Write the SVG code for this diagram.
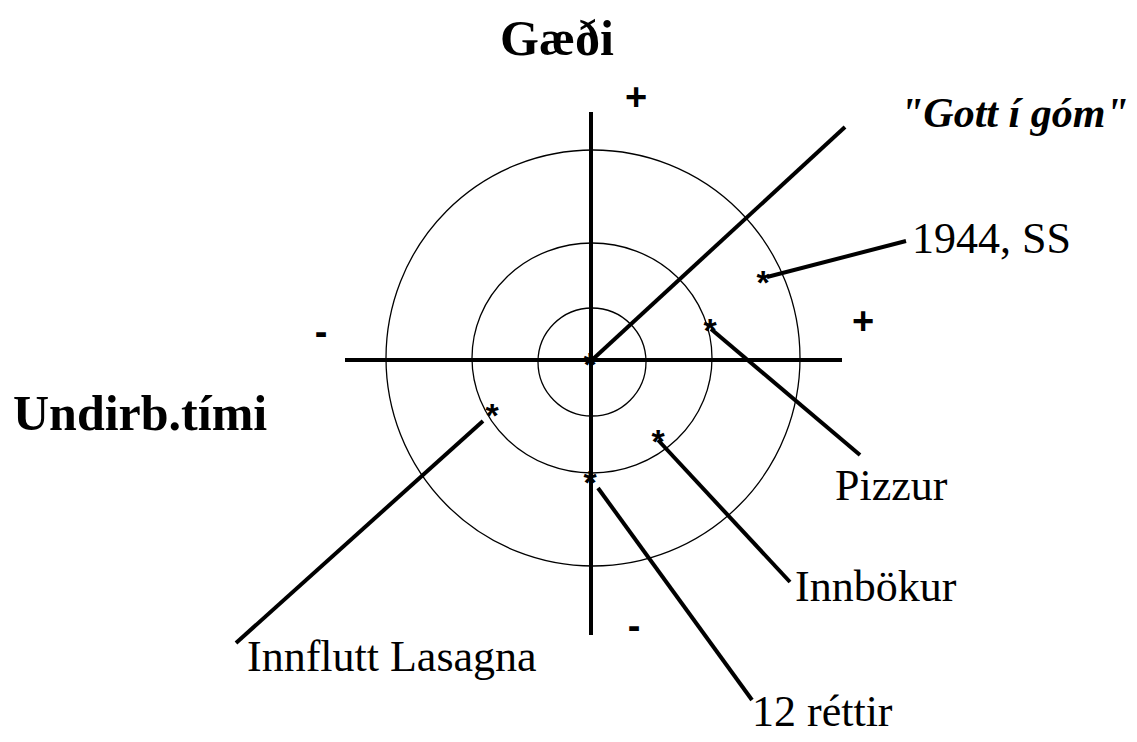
<svg xmlns="http://www.w3.org/2000/svg" width="1137" height="742" viewBox="0 0 1137 742">
<style>
.ring{fill:none;stroke:#000;stroke-width:1.3}
.axis{stroke:#000;stroke-width:4;stroke-linecap:butt}
.lead{stroke:#000;stroke-width:4;stroke-linecap:butt}
.lbl{font-family:"Liberation Serif","Times New Roman",serif;font-size:44px;fill:#000}
.title{font-family:"Liberation Serif","Times New Roman",serif;font-size:50px;font-weight:bold;fill:#000}
.sign{font-family:"Liberation Sans",Arial,sans-serif;font-size:38px;font-weight:bold;fill:#000;text-anchor:middle}
.star{font-family:"Liberation Sans",Arial,sans-serif;font-size:34px;font-weight:bold;fill:#000;text-anchor:middle}
</style>
<g id="rings">
<ellipse class="ring" cx="592" cy="362" rx="54" ry="54"/>
<ellipse class="ring" cx="592" cy="358" rx="120" ry="115"/>
<ellipse class="ring" cx="593" cy="358" rx="207" ry="208"/>
</g>
<g id="axes">
<line class="axis" x1="591" y1="112" x2="591" y2="635"/>
<line class="axis" x1="345" y1="360" x2="842" y2="360"/>
<line class="axis" x1="592" y1="360" x2="845" y2="127"/>
</g>
<g id="connectors">
<line class="lead" x1="767" y1="277" x2="906" y2="241"/>
<line class="lead" x1="711" y1="329" x2="860" y2="455"/>
<line class="lead" x1="658" y1="440" x2="790" y2="582"/>
<line class="lead" x1="598" y1="488" x2="752" y2="700"/>
<line class="lead" x1="483" y1="421" x2="236" y2="643"/>
</g>
<g id="signs">
<text class="sign" x="636" y="110">+</text>
<text class="sign" x="321" y="345">-</text>
<text class="sign" x="863" y="334">+</text>
<text class="sign" x="634" y="639">-</text>
</g>
<g id="stars">
<text class="star" x="590" y="376">*</text>
<text class="star" x="763" y="294">*</text>
<text class="star" x="710" y="342">*</text>
<text class="star" x="492" y="427">*</text>
<text class="star" x="658" y="453">*</text>
<text class="star" x="590" y="494">*</text>
</g>
<g id="titles">
<text class="title" x="500" y="55">Gæði</text>
<text class="title" x="13" y="430">Undirb.tími</text>
<text x="900" y="127" style="font-family:'Liberation Serif','Times New Roman',serif;font-size:42px;font-weight:bold;font-style:italic">"Gott í góm"</text>
</g>
<g id="label-1944"><text class="lbl" x="912" y="253">1944, SS</text></g>
<g id="label-pizzur"><text class="lbl" x="835" y="500">Pizzur</text></g>
<g id="label-innbokur"><text class="lbl" x="795" y="601">Innbökur</text></g>
<g id="label-12rettir"><text class="lbl" x="752" y="726">12 réttir</text></g>
<g id="label-lasagna"><text class="lbl" x="247" y="671">Innflutt Lasagna</text></g>
</svg>
